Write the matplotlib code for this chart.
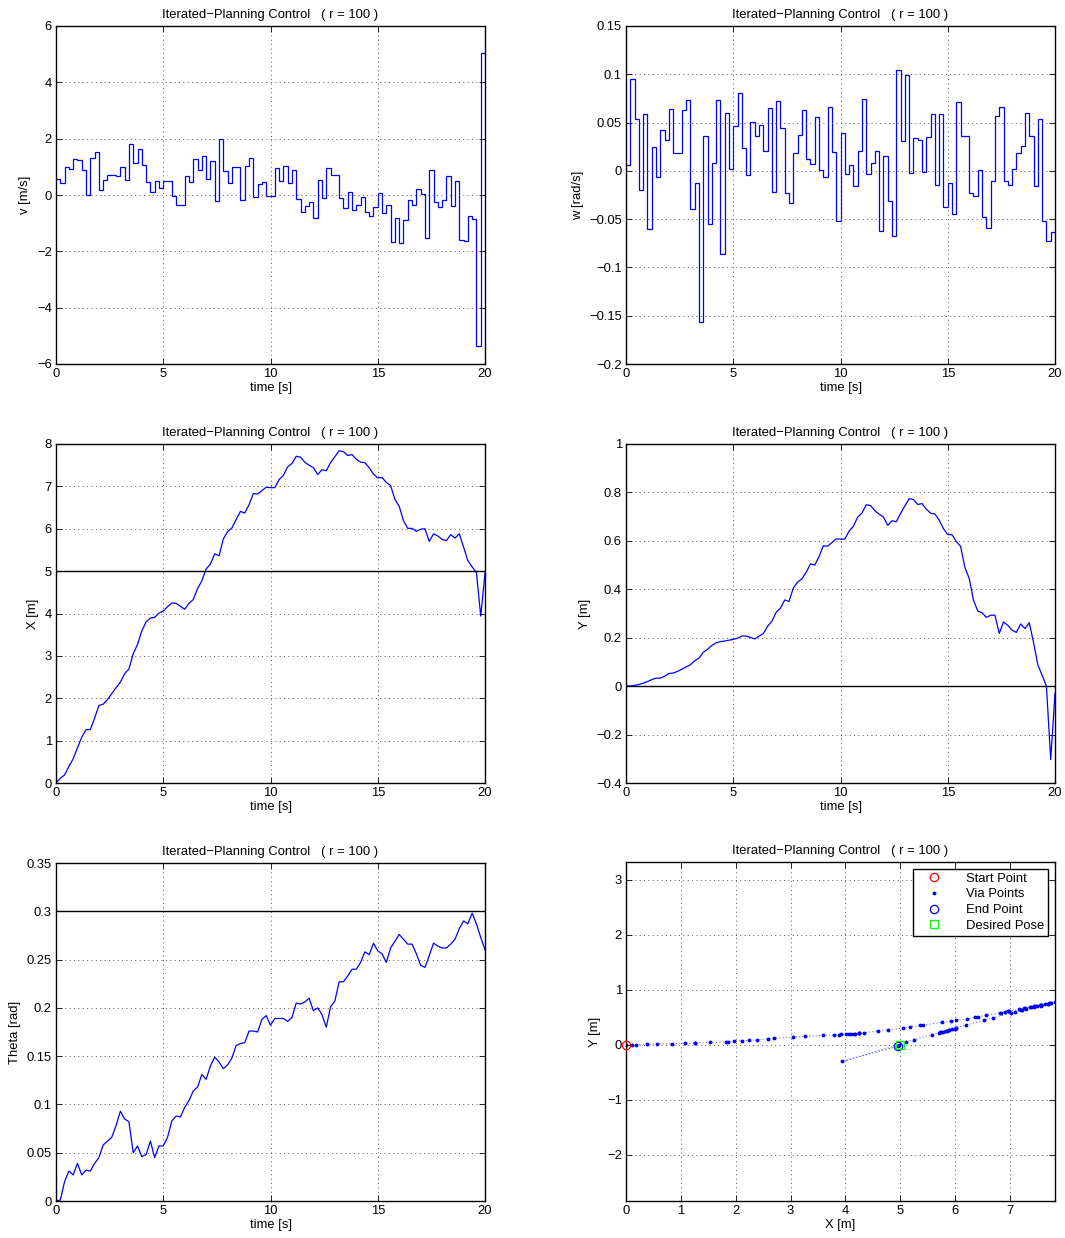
import numpy as np
import matplotlib
matplotlib.use("Agg")
import matplotlib.pyplot as plt
from matplotlib.ticker import FuncFormatter, MultipleLocator

plt.rcParams['font.family'] = ['Liberation Sans', 'DejaVu Sans']
plt.rcParams['font.size'] = 9.4

# control inputs, one value per 0.2 s step
v = [0.56, 0.41, 1.00, 0.91, 1.28, 1.23, 0.90, 0.00, 1.33, 1.52,
     0.18, 0.53, 0.72, 0.71, 0.66, 1.00, 0.53, 1.81, 1.13, 1.62,
     1.05, 0.47, 0.12, 0.51, 0.24, 0.49, 0.49, -0.03, -0.35, -0.35,
     0.68, 0.45, 1.29, 0.88, 1.40, 0.58, 1.19, -0.23, 2.00, 0.86,
     0.43, 1.01, 1.01, -0.18, 1.02, 1.31, -0.06, 0.38, 0.45, -0.05,
     -0.02, 0.95, 0.51, 1.03, 0.43, 0.90, -0.15, -0.61, -0.40, -0.26,
     -0.82, 0.53, -0.10, 0.95, 0.72, 0.72, -0.11, -0.46, 0.11, -0.53,
     -0.36, -0.06, -0.61, -0.74, -0.43, 0.06, -0.63, -0.34, -1.66, -0.83,
     -1.69, -0.89, -0.17, -0.36, 0.23, 0.02, -1.51, 0.90, -0.24, -0.44,
     -0.18, 0.68, -0.39, 0.48, -1.58, -1.63, -0.74, -0.84, -5.35, 5.05]
w = [0.006, 0.095, 0.054, -0.020, 0.059, -0.060, 0.025, -0.006, 0.042, 0.032,
     0.064, 0.019, 0.018, 0.063, 0.073, -0.040, -0.013, -0.157, 0.036, -0.055,
     0.008, 0.073, -0.086, 0.060, 0.002, 0.046, 0.081, 0.024, -0.004, 0.051,
     0.036, 0.048, 0.021, 0.065, -0.022, 0.072, 0.044, -0.023, -0.033, 0.018,
     0.037, 0.063, 0.012, 0.007, 0.056, 0.001, -0.006, 0.066, 0.020, -0.052,
     0.039, -0.003, 0.006, -0.016, 0.021, 0.074, -0.003, 0.008, 0.021, -0.062,
     0.015, -0.031, -0.067, 0.104, 0.031, 0.099, -0.002, 0.034, 0.032, -0.001,
     0.035, 0.059, -0.015, 0.059, -0.037, -0.013, -0.045, 0.071, 0.036, 0.036,
     -0.023, -0.026, 0.001, -0.048, -0.059, -0.011, 0.057, 0.066, -0.010, -0.015,
     0.002, 0.018, 0.026, 0.060, 0.036, -0.016, 0.054, -0.052, -0.073, -0.063]

# robot state, sampled every 0.2 s (101 samples)
X = [0, 0.11, 0.19, 0.39, 0.57, 0.83, 1.08, 1.26, 1.26, 1.53,
     1.83, 1.86, 1.97, 2.11, 2.25, 2.38, 2.58, 2.69, 3.05, 3.27,
     3.59, 3.80, 3.89, 3.91, 4.01, 4.06, 4.16, 4.25, 4.24, 4.17,
     4.10, 4.24, 4.33, 4.59, 4.77, 5.05, 5.17, 5.41, 5.36, 5.76,
     5.93, 6.02, 6.22, 6.41, 6.37, 6.57, 6.83, 6.82, 6.90, 6.98,
     6.97, 6.97, 7.16, 7.26, 7.46, 7.54, 7.71, 7.69, 7.57, 7.50,
     7.44, 7.28, 7.39, 7.37, 7.56, 7.70, 7.84, 7.82, 7.73, 7.75,
     7.64, 7.57, 7.56, 7.44, 7.29, 7.20, 7.21, 7.09, 7.02, 6.69,
     6.53, 6.19, 6.01, 6.01, 5.94, 5.99, 6.00, 5.70, 5.88, 5.83,
     5.75, 5.72, 5.86, 5.78, 5.88, 5.57, 5.25, 5.10, 4.97, 3.94, 4.95]
Y = [0, 0.001, 0.003, 0.007, 0.012, 0.019, 0.027, 0.033, 0.033, 0.041,
     0.052, 0.054, 0.061, 0.070, 0.079, 0.088, 0.105, 0.115, 0.140, 0.152,
     0.168, 0.179, 0.184, 0.186, 0.190, 0.193, 0.198, 0.207, 0.207, 0.201,
     0.195, 0.206, 0.217, 0.247, 0.268, 0.305, 0.322, 0.356, 0.350, 0.405,
     0.430, 0.443, 0.470, 0.505, 0.500, 0.535, 0.580, 0.578, 0.593, 0.608,
     0.607, 0.607, 0.640, 0.660, 0.698, 0.715, 0.749, 0.746, 0.725, 0.710,
     0.699, 0.664, 0.683, 0.679, 0.713, 0.744, 0.774, 0.771, 0.750, 0.754,
     0.731, 0.714, 0.711, 0.686, 0.650, 0.626, 0.625, 0.597, 0.577, 0.490,
     0.445, 0.355, 0.310, 0.303, 0.284, 0.293, 0.293, 0.218, 0.265, 0.251,
     0.231, 0.222, 0.257, 0.238, 0.262, 0.180, 0.088, 0.045, 0.000, -0.303, -0.030]
Theta = [0, 0.001, 0.020, 0.031, 0.027, 0.039, 0.027, 0.032, 0.031, 0.039,
         0.045, 0.058, 0.062, 0.066, 0.078, 0.093, 0.085, 0.082, 0.050, 0.057,
         0.046, 0.048, 0.062, 0.045, 0.057, 0.057, 0.066, 0.083, 0.088, 0.087,
         0.097, 0.104, 0.114, 0.118, 0.131, 0.126, 0.140, 0.149, 0.144, 0.137,
         0.141, 0.148, 0.161, 0.163, 0.164, 0.176, 0.176, 0.175, 0.188, 0.192,
         0.182, 0.189, 0.189, 0.189, 0.186, 0.190, 0.205, 0.204, 0.206, 0.210,
         0.197, 0.200, 0.193, 0.180, 0.201, 0.207, 0.227, 0.227, 0.233, 0.240,
         0.240, 0.247, 0.258, 0.255, 0.267, 0.259, 0.256, 0.247, 0.262, 0.269,
         0.276, 0.271, 0.266, 0.266, 0.256, 0.244, 0.242, 0.254, 0.267, 0.264,
         0.262, 0.262, 0.266, 0.271, 0.282, 0.290, 0.287, 0.298, 0.287, 0.273, 0.260]

# desired pose
X_goal, Y_goal, Theta_goal = 5.0, 0.0, 0.3
T_end = 20.0

title = 'Iterated\u2212Planning Control   ( r = 100 )'
t_edges = np.linspace(0, T_end, len(v) + 1)
t = np.linspace(0, T_end, len(X))

fmt = FuncFormatter(lambda x, p: ('%g' % round(x, 6)).replace('-', '\u2212'))
BLUE = '#0000ff'

W, H = 1065., 1238.
def make_ax(left, top, right, bottom):
    return fig.add_axes([left / W, 1 - bottom / H, (right - left) / W, (bottom - top) / H])

def style(ax):
    ax.grid(True, color='#555555', linestyle=(0, (1, 3.5)), linewidth=0.7)
    ax.tick_params(direction='in', top=True, right=True, length=4, width=0.6, pad=3, labelsize=9.4)
    for s in ax.spines.values():
        s.set_linewidth(1.0)
    ax.xaxis.set_major_formatter(fmt)
    ax.yaxis.set_major_formatter(fmt)
    ax.set_title(title, fontsize=9.4, pad=6)

fig = plt.figure(figsize=(W / 100, H / 100), dpi=100)

# v
ax = make_ax(56, 26, 485, 364)
ax.stairs(v, t_edges, baseline=None, color=BLUE, linewidth=0.9)
ax.set_xlim(0, 20); ax.set_ylim(-6, 6)
ax.xaxis.set_major_locator(MultipleLocator(5)); ax.yaxis.set_major_locator(MultipleLocator(2))
ax.set_xlabel('time [s]', labelpad=1); ax.set_ylabel('v [m/s]')
style(ax)

# w
ax = make_ax(626, 26, 1055, 364)
ax.stairs(w, t_edges, baseline=None, color=BLUE, linewidth=0.9)
ax.set_xlim(0, 20); ax.set_ylim(-0.2, 0.15)
ax.xaxis.set_major_locator(MultipleLocator(5)); ax.yaxis.set_major_locator(MultipleLocator(0.05))
ax.set_xlabel('time [s]', labelpad=1); ax.set_ylabel('w [rad/s]')
style(ax)

# X
ax = make_ax(56, 444, 485, 783)
ax.plot(t, X, color=BLUE, linewidth=0.9)
ax.axhline(X_goal, color='k', linewidth=1.0)
ax.set_xlim(0, 20); ax.set_ylim(0, 8)
ax.xaxis.set_major_locator(MultipleLocator(5)); ax.yaxis.set_major_locator(MultipleLocator(1))
ax.set_xlabel('time [s]', labelpad=1); ax.set_ylabel('X [m]')
style(ax)

# Y
ax = make_ax(626, 444, 1055, 783)
ax.plot(t, Y, color=BLUE, linewidth=0.9)
ax.axhline(Y_goal, color='k', linewidth=1.0)
ax.set_xlim(0, 20); ax.set_ylim(-0.4, 1)
ax.xaxis.set_major_locator(MultipleLocator(5)); ax.yaxis.set_major_locator(MultipleLocator(0.2))
ax.set_xlabel('time [s]', labelpad=1); ax.set_ylabel('Y [m]')
style(ax)

# Theta
ax = make_ax(56, 863, 485, 1201)
ax.plot(t, Theta, color=BLUE, linewidth=0.9)
ax.axhline(Theta_goal, color='k', linewidth=1.0)
ax.set_xlim(0, 20); ax.set_ylim(0, 0.35)
ax.xaxis.set_major_locator(MultipleLocator(5)); ax.yaxis.set_major_locator(MultipleLocator(0.05))
ax.set_xlabel('time [s]', labelpad=1); ax.set_ylabel('Theta [rad]')
style(ax)

# XY path
ax = make_ax(626, 862, 1055, 1201)
ax.plot(X, Y, color='#6f6fff', linestyle=(0, (1, 2)), linewidth=0.8)
ax.plot(X[0], Y[0], 'o', color='#ff0000', mfc='none', ms=6, mew=0.9, label='Start Point', clip_on=False, zorder=5)
ax.plot(X, Y, '.', color=BLUE, ms=3.5, label='Via Points')
ax.plot(X[-1], Y[-1], 'o', color=BLUE, mfc='none', ms=6, mew=0.9, label='End Point')
ax.plot(X_goal, Y_goal, 's', color='#00ff00', mfc='none', ms=5.5, mew=0.9, label='Desired Pose')
ax.set_xlim(0, 7.82); ax.set_ylim(-2.84, 3.32)
ax.xaxis.set_major_locator(MultipleLocator(1)); ax.yaxis.set_major_locator(MultipleLocator(1))
ax.set_xlabel('X [m]', labelpad=1); ax.set_ylabel('Y [m]')
style(ax)
leg = ax.legend(loc='upper right', fontsize=9.4, fancybox=False, edgecolor='k',
                framealpha=1, borderaxespad=0.5, handlelength=2.6, handletextpad=1.2,
                labelspacing=0.28, borderpad=0.3)
leg.get_frame().set_linewidth(1.0)

fig.savefig('out.png', dpi=100)
